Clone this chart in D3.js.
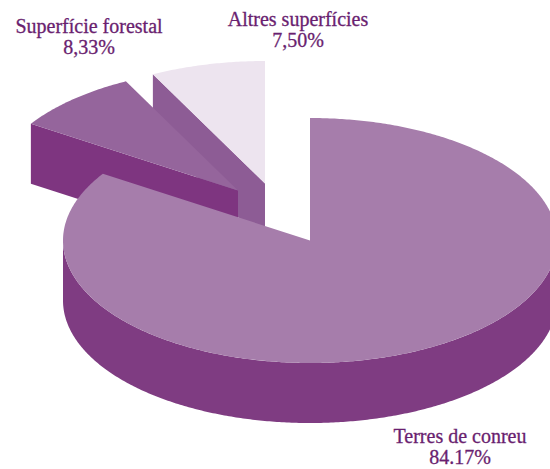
<!DOCTYPE html>
<html>
<head>
<meta charset="utf-8">
<script src="https://cdn.jsdelivr.net/npm/d3@7"></script>
<style>
  html, body { margin: 0; padding: 0; background: #fff; }
  svg { display: block; }
  .label { font-family: "Liberation Serif", serif; font-size: 20px; fill: #6a1f70; stroke: #6a1f70; stroke-width: 0.3px; }
</style>
</head>
<body>
<div class="canvas"></div>
<script>
// land use shares (percent)
const categories = ['Terres de conreu', 'Superfície forestal', 'Altres superfícies']
const values = [84.17, 8.33, 7.50]
const valueLabels = ['84.17%', '8,33%', '7,50%']

const width = 550
const height = 469

// pie geometry (projected ellipse)
const cx = 310, cy = 240.5
const rx = 247, ry = 122.5
const depth = 60

// per slice styling: top colour, side colour, explode offset, label anchor
const styles = [
  {top: '#a67dab', side: '#7f3c82', dx: 0, dy: 0, lx: 460, ly: 443},
  {top: '#95659c', side: '#7e3580', dx: -72, dy: -50, lx: 89, ly: 33},
  {top: '#ede4ef', side: '#8d5c95', dx: -45, dy: -57, lx: 298, ly: 26}
]

const svg = d3.select('.canvas')
  .append('svg')
  .attr('width', width)
  .attr('height', height)

const pie = d3.pie().sort(null).value(d => d)
const arcs = pie(values)

// project an angle (clockwise from 12 o'clock) onto the tilted ellipse
const project = (a, r, h, s) => [
  cx + s.dx + r * rx * Math.sin(a),
  cy + s.dy - r * ry * Math.cos(a) + h
]

const arcPoints = (a0, a1, h, s) => {
  const n = Math.max(2, Math.ceil(Math.abs(a1 - a0) / 0.01))
  return d3.range(n + 1).map(i => project(a0 + (a1 - a0) * i / n, 1, h, s))
}

const line = d3.line()

function topPath(d, s) {
  const pts = [project(0, 0, 0, s)].concat(arcPoints(d.startAngle, d.endAngle, 0, s))
  return line(pts) + 'Z'
}

function cutPath(a, s) {
  return line([
    project(a, 0, 0, s), project(a, 1, 0, s),
    project(a, 1, depth, s), project(a, 0, depth, s)
  ]) + 'Z'
}

function sidePath(d, s) {
  const a0 = Math.max(d.startAngle, Math.PI / 2)
  const a1 = Math.min(d.endAngle, Math.PI * 3 / 2)
  if (a1 <= a0) return null
  const pts = arcPoints(a0, a1, 0, s).concat(arcPoints(a1, a0, depth, s))
  return line(pts) + 'Z'
}

// back slices first, front slice last
const order = d3.range(arcs.length).reverse()

order.forEach(i => {
  const d = arcs[i]
  const s = styles[i]
  const g = svg.append('g').attr('class', 'slice')

  if (Math.sin(d.startAngle) < -1e-6)
    g.append('path').attr('d', cutPath(d.startAngle, s)).attr('fill', s.side)
  if (Math.sin(d.endAngle) > 1e-6)
    g.append('path').attr('d', cutPath(d.endAngle, s)).attr('fill', s.side)

  const side = sidePath(d, s)
  if (side) g.append('path').attr('d', side).attr('fill', s.side)

  g.append('path').attr('d', topPath(d, s)).attr('fill', s.top)
})

const labels = svg.selectAll('text.label')
  .data(categories)
  .enter().append('text')
  .attr('class', 'label')
  .attr('text-anchor', 'middle')
  .attr('x', (c, i) => styles[i].lx)
  .attr('y', (c, i) => styles[i].ly)

labels.append('tspan').text(c => c)
labels.append('tspan')
  .attr('x', (c, i) => styles[i].lx)
  .attr('dy', 21)
  .text((c, i) => valueLabels[i])
</script>
</body>
</html>
